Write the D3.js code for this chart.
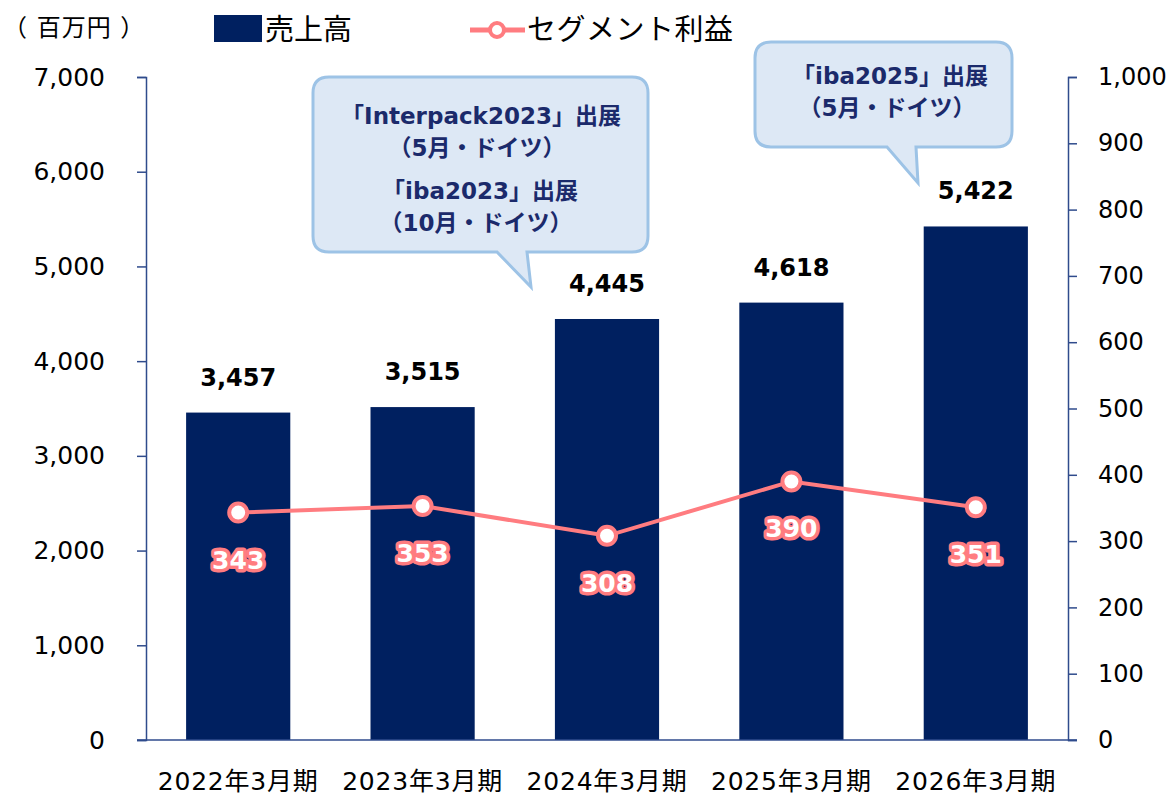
<!DOCTYPE html>
<html>
<head>
<meta charset="utf-8">
<script src="https://cdn.jsdelivr.net/npm/d3@7"></script>
<style>
  body { margin: 0; background: #fff; }
  svg { display: block; }
  .jp { font-family: "DejaVu Sans", "Noto Sans CJK JP", sans-serif; }
  .num { font-family: "DejaVu Sans", Verdana, sans-serif; }
</style>
</head>
<body>
<script>
// data
var periods = ["2022年3月期", "2023年3月期", "2024年3月期", "2025年3月期", "2026年3月期"];
var sales = [3457, 3515, 4445, 4618, 5422];
var profit = [343, 353, 308, 390, 351];
var leftTicks = [0, 1000, 2000, 3000, 4000, 5000, 6000, 7000];
var rightTicks = [0, 100, 200, 300, 400, 500, 600, 700, 800, 900, 1000];

var W = 1176, H = 797;
var navy = "#002060", pink = "#FF7C80", axisCol = "#2F4B8C";

var svg = d3.select("body").append("svg")
    .attr("width", W)
    .attr("height", H);

var plotLeft = 146, plotRight = 1068, plotTop = 77, plotBottom = 740;

var x = d3.scaleBand().domain(periods).range([plotLeft, plotRight]).paddingInner(0.435).paddingOuter(0.2175);
var yL = d3.scaleLinear().domain([0, 7000]).range([plotBottom, plotTop]);
var yR = d3.scaleLinear().domain([0, 1000]).range([plotBottom, plotTop]);

// bars
svg.selectAll(".bar")
    .data(sales)
  .enter().append("rect")
    .attr("class", "bar")
    .attr("x", function(d, i) { return x(periods[i]); })
    .attr("y", function(d) { return yL(d); })
    .attr("width", x.bandwidth())
    .attr("height", function(d) { return plotBottom - yL(d); })
    .style("fill", navy);

// bar labels
svg.selectAll(".barlab")
    .data(sales)
  .enter().append("text")
    .attr("class", "num")
    .attr("x", function(d, i) { return x(periods[i]) + x.bandwidth() / 2; })
    .attr("y", function(d) { return yL(d) - 27; })
    .attr("text-anchor", "middle")
    .style("font-size", "24px")
    .style("font-weight", "bold")
    .style("fill", "#000")
    .text(d3.format(","));

// left axis
var axL = svg.append("g")
    .attr("transform", "translate(" + plotLeft + ",0)")
    .call(d3.axisLeft(yL).tickValues(leftTicks).tickFormat(d3.format(",")).tickSizeOuter(0).tickSize(9).tickPadding(32));
axL.select(".domain").attr("stroke", axisCol).attr("stroke-width", 1.5);
axL.selectAll(".tick line").attr("stroke", axisCol).attr("stroke-width", 1.5);
axL.selectAll("text").attr("class", "num").style("font-size", "25px").style("fill", "#000");

// right axis
var axR = svg.append("g")
    .attr("transform", "translate(" + plotRight + ",0)")
    .call(d3.axisRight(yR).tickValues(rightTicks).tickFormat(d3.format(",")).tickSizeOuter(0).tickSize(9).tickPadding(21));
axR.select(".domain").attr("stroke", axisCol).attr("stroke-width", 1.5);
axR.selectAll(".tick line").attr("stroke", axisCol).attr("stroke-width", 1.5);
axR.selectAll("text").attr("class", "num").style("font-size", "24px").style("fill", "#000");

// bottom axis
var axB = svg.append("g")
    .attr("transform", "translate(0," + plotBottom + ")")
    .call(d3.axisBottom(x).tickSize(0).tickSizeOuter(0).tickPadding(32));
axB.select(".domain").attr("stroke", axisCol).attr("stroke-width", 1.5)
    .attr("d", "M" + (plotLeft - 9) + ",0H" + (plotRight + 9));
axB.selectAll("text").attr("class", "jp").style("font-size", "25px").style("letter-spacing", "0.8px").style("fill", "#000");

// profit line
var line = d3.line()
    .x(function(d, i) { return x(periods[i]) + x.bandwidth() / 2; })
    .y(function(d) { return yR(d); });

svg.append("path")
    .datum(profit)
    .attr("d", line)
    .style("fill", "none")
    .style("stroke", pink)
    .style("stroke-width", 4);

svg.selectAll(".dot")
    .data(profit)
  .enter().append("circle")
    .attr("cx", function(d, i) { return x(periods[i]) + x.bandwidth() / 2; })
    .attr("cy", function(d) { return yR(d); })
    .attr("r", 9)
    .style("fill", "#fff")
    .style("stroke", pink)
    .style("stroke-width", 4);

// profit labels (white text, pink outline)
svg.selectAll(".plab")
    .data(profit)
  .enter().append("text")
    .attr("class", "num")
    .attr("x", function(d, i) { return x(periods[i]) + x.bandwidth() / 2; })
    .attr("y", function(d) { return yR(d) + 56; })
    .attr("text-anchor", "middle")
    .style("font-size", "25px")
    .style("font-weight", "bold")
    .style("fill", "#fff")
    .style("stroke", pink)
    .style("stroke-width", 7)
    .style("stroke-linejoin", "round")
    .style("paint-order", "stroke")
    .text(function(d) { return d; });

// callouts
function callout(bx, by, bw, bh, tail, lines) {
  var r = 16;
  var p = "M" + (bx + r) + "," + by +
    "H" + (bx + bw - r) + "Q" + (bx + bw) + "," + by + " " + (bx + bw) + "," + (by + r) +
    "V" + (by + bh - r) + "Q" + (bx + bw) + "," + (by + bh) + " " + (bx + bw - r) + "," + (by + bh) +
    "H" + tail[1] + "L" + tail[2] + "," + tail[3] + "L" + tail[0] + "," + (by + bh) +
    "H" + (bx + r) + "Q" + bx + "," + (by + bh) + " " + bx + "," + (by + bh - r) +
    "V" + (by + r) + "Q" + bx + "," + by + " " + (bx + r) + "," + by + "Z";
  svg.append("path")
      .attr("d", p)
      .style("fill", "#DDE8F5")
      .style("stroke", "#9DC3E6")
      .style("stroke-width", 3);
  lines.forEach(function(l) {
    svg.append("text")
        .attr("class", "jp")
        .attr("x", l[0])
        .attr("y", l[1])
        .attr("text-anchor", "middle")
        .style("font-size", "23px")
        .style("font-weight", "bold")
        .style("fill", "#1B2A6B")
        .text(l[2]);
  });
}
callout(313, 77, 335, 175, [497, 527, 531, 287], [
  [481, 124, "「Interpack2023」出展"],
  [477, 156, "（5月・ドイツ）"],
  [480, 199, "「iba2023」出展"],
  [476, 231, "（10月・ドイツ）"]
]);
callout(755, 42, 257, 105, [887, 916, 918, 183], [
  [890, 84, "「iba2025」出展"],
  [887, 116, "（5月・ドイツ）"]
]);

// unit + legend
svg.append("text").attr("class", "jp").attr("x", 3).attr("y", 36)
    .style("font-size", "24px").style("letter-spacing", "1px").text("（ 百万円 ）");
svg.append("rect").attr("x", 214).attr("y", 15).attr("width", 48).attr("height", 27).style("fill", navy);
svg.append("text").attr("class", "jp").attr("x", 265).attr("y", 40)
    .style("font-size", "29px").text("売上高");
svg.append("line").attr("x1", 470).attr("x2", 525).attr("y1", 30).attr("y2", 30)
    .style("stroke", pink).style("stroke-width", 5);
svg.append("circle").attr("cx", 497).attr("cy", 30).attr("r", 7)
    .style("fill", "#fff").style("stroke", pink).style("stroke-width", 4);
svg.append("text").attr("class", "jp").attr("x", 527).attr("y", 40)
    .style("font-size", "29px").style("letter-spacing", "0.5px").text("セグメント利益");
</script>
</body>
</html>
